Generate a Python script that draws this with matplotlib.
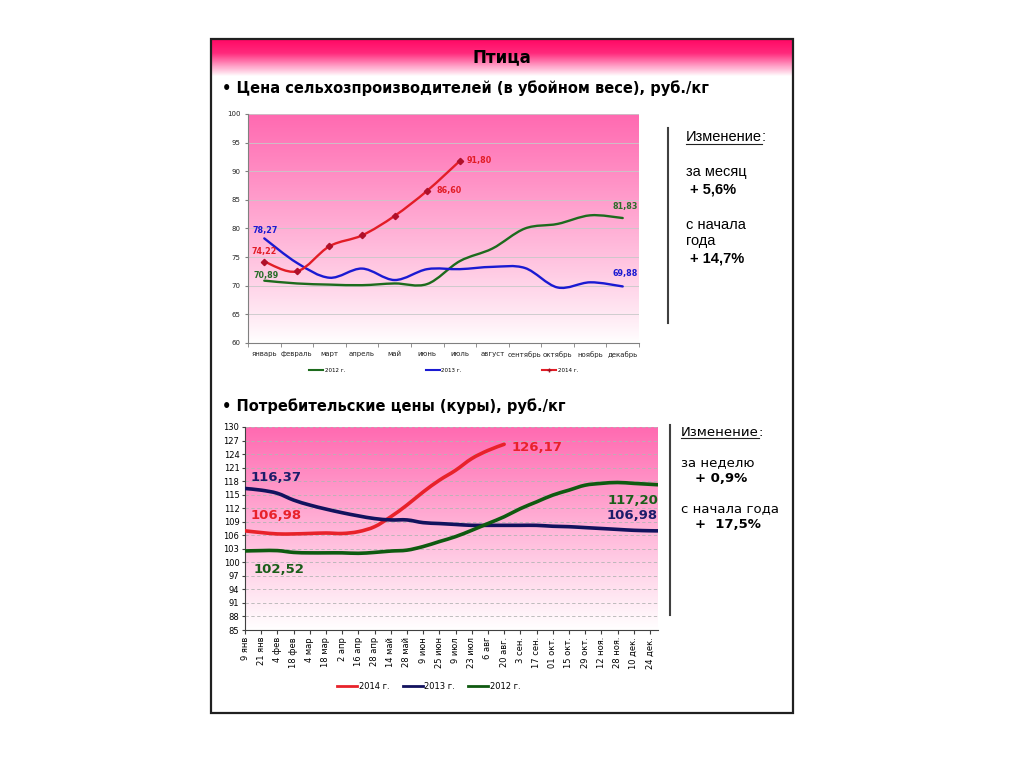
import matplotlib.pyplot as plt
import numpy as np
from matplotlib.path import Path
from matplotlib.patches import PathPatch, Rectangle
from matplotlib.lines import Line2D
from matplotlib.colors import LinearSegmentedColormap

plt.switch_backend('Agg')
plt.rcParams['font.family'] = ['DejaVu Sans']

W, H = 1024, 768

# --- top chart: producer price (slaughter weight), rub/kg, by month
months = ["январь", "февраль", "март", "апрель", "май", "июнь", "июль",
          "август", "сентябрь", "октябрь", "ноябрь", "декабрь"]
farm_2012 = [70.89, 70.4, 70.2, 70.1, 70.4, 70.3, 74.3, 76.5, 80.0, 80.8, 82.3, 81.83]
farm_2013 = [78.27, 74.0, 71.4, 73.0, 71.0, 72.9, 72.9, 73.3, 73.1, 69.7, 70.6, 69.88]
farm_2014 = [74.22, 72.5, 76.9, 78.8, 82.2, 86.60, 91.80]

# --- bottom chart: consumer price (chicken), rub/kg, weekly
week_labels = ["9 янв", "21 янв", "4 фев", "18 фев", "4 мар", "18 мар", "2 апр", "16 апр",
               "28 апр", "14 май", "28 май", "9 июн", "25 июн", "9 июл", "23 июл", "6 авг",
               "20 авг.", "3 сен.", "17 сен.", "01 окт.", "15 окт.", "29 окт.", "12 ноя.",
               "28 ноя.", "10 дек.", "24 дек."]
label_weeks = list(range(0, 52, 2))
weeks_full = label_weeks + [51]
retail_2014 = [106.98, 106.6, 106.3, 106.3, 106.4, 106.5, 106.4, 106.8, 107.9, 110.1,
               112.7, 115.6, 118.2, 120.4, 123.0, 124.8, 126.17]
retail_2013 = [116.37, 116.0, 115.3, 113.8, 112.7, 111.8, 111.0, 110.3, 109.7, 109.4,
               109.4, 108.8, 108.6, 108.4, 108.2, 108.2, 108.2, 108.2, 108.2, 108.0,
               107.9, 107.7, 107.5, 107.3, 107.1, 107.0, 106.98]
retail_2012 = [102.52, 102.6, 102.6, 102.2, 102.1, 102.1, 102.1, 102.0, 102.2, 102.5,
               102.7, 103.5, 104.6, 105.7, 107.1, 108.6, 110.1, 111.9, 113.4, 114.9,
               116.0, 117.1, 117.5, 117.7, 117.5, 117.3, 117.20]


def px_box(x0, y0, x1, y1):
    # pixel box (top-left origin) -> figure rect
    return [x0 / W, 1 - y1 / H, (x1 - x0) / W, (y1 - y0) / H]


def smooth_path(xs, ys):
    # excel-like smoothed line: cubic bezier through the points
    pts = np.column_stack([xs, ys]).astype(float)
    n = len(pts)
    verts = [pts[0]]
    codes = [Path.MOVETO]
    for i in range(n - 1):
        p0 = pts[i - 1] if i > 0 else pts[i]
        p1, p2 = pts[i], pts[i + 1]
        p3 = pts[i + 2] if i + 2 < n else pts[i + 1]
        verts += [p1 + (p2 - p0) / 6, p2 - (p3 - p1) / 6, p2]
        codes += [Path.CURVE4] * 3
    return Path(verts, codes)


def draw_smooth(ax, xs, ys, color, lw):
    ax.add_patch(PathPatch(smooth_path(xs, ys), fill=False, edgecolor=color, lw=lw,
                           capstyle='round', joinstyle='round', zorder=3))


def gradient_bg(ax, xlim, ylim, top_color, power=1.0):
    cmap = LinearSegmentedColormap.from_list("bg", ["white", top_color])
    grad = np.linspace(0, 1, 256) ** power
    ax.imshow(grad[:, None], extent=[xlim[0], xlim[1], ylim[0], ylim[1]], origin='lower',
              aspect='auto', cmap=cmap, vmin=0, vmax=1, zorder=0)
    ax.set_xlim(xlim)
    ax.set_ylim(ylim)


fig = plt.figure(figsize=(W / 100, H / 100), dpi=100)

# slide frame and header band
hdr = fig.add_axes(px_box(212, 40, 793, 76))
hdr.axis('off')
hdr_cmap = LinearSegmentedColormap.from_list("hdr", ["white", "#ff9cc4", "#ff2a7c", "#ff0a66"])
hdr.imshow(np.linspace(0, 1, 256)[:, None] ** 0.9, origin='lower', aspect='auto',
           cmap=hdr_cmap, extent=[0, 1, 0, 1])
fig.add_artist(Rectangle((211 / W, 1 - 713 / H), 582 / W, 674 / H, transform=fig.transFigure,
                         fill=False, edgecolor='#202020', lw=1.6))

fig.text(502 / W, 1 - 57 / H, "Птица", fontsize=12, fontweight='bold', ha='center', va='center')
fig.text(222 / W, 1 - 88 / H, "• Цена сельхозпроизводителей (в убойном весе), руб./кг",
         fontsize=10.5, fontweight='bold', ha='left', va='center')
fig.text(222 / W, 1 - 406 / H, "• Потребительские цены (куры), руб./кг",
         fontsize=10.5, fontweight='bold', ha='left', va='center')

# ---------------- top chart
ax1 = fig.add_axes(px_box(248, 114, 639, 343))
gradient_bg(ax1, (-0.5, 11.5), (60, 100), "#ff6ab1", power=0.9)
ax1.set_yticks(range(60, 101, 5))
ax1.grid(axis='y', color='#c8c8c8', lw=0.6)
ax1.set_axisbelow(True)
ax1.set_xticks(range(12))
ax1.set_xticklabels(months)
ax1.set_xticks(np.arange(-0.5, 12, 1), minor=True)
ax1.tick_params(axis='x', which='major', length=0, pad=6, labelsize=5, labelcolor='#222222')
ax1.tick_params(axis='x', which='minor', length=3, color='#808080')
ax1.tick_params(axis='y', length=2, labelsize=5, labelcolor='#222222', color='#808080')
for s in ['top', 'right']:
    ax1.spines[s].set_visible(False)
for s in ['left', 'bottom']:
    ax1.spines[s].set_color('#808080')
    ax1.spines[s].set_linewidth(0.8)

c12, c13, c14 = '#1d6b1d', '#1a1ad2', '#e21d26'
m1 = list(range(12))
draw_smooth(ax1, m1, farm_2012, c12, 1.7)
draw_smooth(ax1, m1, farm_2013, c13, 1.7)
draw_smooth(ax1, m1[:len(farm_2014)], farm_2014, c14, 1.7)
ax1.plot(m1[:len(farm_2014)], farm_2014, ls='none', marker='D', ms=3.2, color='#b0102a', zorder=4)

lab = dict(fontsize=5.8, fontweight='bold', textcoords='offset points')
ax1.annotate("91,80", (6, farm_2014[6]), xytext=(5, 0), color=c14, ha='left', va='center', **lab)
ax1.annotate("86,60", (5, farm_2014[5]), xytext=(7, 0), color=c14, ha='left', va='center', **lab)
ax1.annotate("74,22", (0, farm_2014[0]), xytext=(0, 7), color=c14, ha='center', va='center', **lab)
ax1.annotate("78,27", (0, farm_2013[0]), xytext=(1, 6), color=c13, ha='center', va='center', **lab)
ax1.annotate("70,89", (0, farm_2012[0]), xytext=(1, 4), color='#2a6e2a', ha='center', va='center', **lab)
ax1.annotate("81,83", (11, farm_2012[11]), xytext=(2, 8), color='#2a6e2a', ha='center', va='center', **lab)
ax1.annotate("69,88", (11, farm_2013[11]), xytext=(2, 9), color=c13, ha='center', va='center', **lab)

h1 = [Line2D([], [], color=c12, lw=1.5), Line2D([], [], color=c13, lw=1.5),
      Line2D([], [], color=c14, lw=1.5, marker='+', ms=3, mec='#a01020')]
ax1.legend(h1, ["2012 г.", "2013 г.", "2014 г."], loc='center', bbox_to_anchor=(0.5, -0.122),
           ncol=3, frameon=False, fontsize=4, columnspacing=14.5, handlelength=2.6,
           handletextpad=0.2, borderpad=0, borderaxespad=0)

# ---------------- bottom chart
ax2 = fig.add_axes(px_box(245, 427, 658, 630))
gradient_bg(ax2, (0, 51), (85, 130), "#ff6ab1", power=1.0)
ax2.set_yticks(range(85, 131, 3))
ax2.grid(axis='y', color='#b4b4b4', lw=0.6, ls=(0, (4, 3)))
ax2.set_axisbelow(True)
ax2.set_xticks(label_weeks)
ax2.set_xticklabels(week_labels, rotation=90)
ax2.tick_params(axis='x', length=3, pad=2, labelsize=6, color='#404040')
ax2.tick_params(axis='y', length=2, labelsize=6, color='#404040', pad=2)
for s in ['top', 'right']:
    ax2.spines[s].set_visible(False)
for s in ['left', 'bottom']:
    ax2.spines[s].set_color('#404040')
    ax2.spines[s].set_linewidth(0.8)

r14, r13, r12 = '#e8222a', '#12125e', '#0f5a10'
draw_smooth(ax2, label_weeks[:len(retail_2014)], retail_2014, r14, 2.6)
draw_smooth(ax2, weeks_full, retail_2013, r13, 2.6)
draw_smooth(ax2, weeks_full, retail_2012, r12, 2.6)

lab2 = dict(fontsize=9.5, fontweight='bold', textcoords='offset points', va='center')
ax2.annotate("126,17", (32, retail_2014[-1]), xytext=(5, -2), color=r14, ha='left', **lab2)
ax2.annotate("116,37", (0, retail_2013[0]), xytext=(4, 8), color='#1c1c6a', ha='left', **lab2)
ax2.annotate("106,98", (0, retail_2014[0]), xytext=(4, 11), color=r14, ha='left', **lab2)
ax2.annotate("102,52", (0, retail_2012[0]), xytext=(6, -13), color='#1a5e1a', ha='left', **lab2)
ax2.annotate("117,20", (51, retail_2012[-1]), xytext=(0, -11), color='#1a5e1a', ha='right', **lab2)
ax2.annotate("106,98", (51, retail_2013[-1]), xytext=(0, 11), color='#1c1c6a', ha='right', **lab2)

h2 = [Line2D([], [], color=r14, lw=2), Line2D([], [], color=r13, lw=2),
      Line2D([], [], color=r12, lw=2)]
ax2.legend(h2, ["2014 г.", "2013 г.", "2012 г."], loc='center left', bbox_to_anchor=(0.223, -0.28),
           ncol=3, frameon=False, fontsize=6, columnspacing=1.6, handlelength=2.4,
           handletextpad=0.2, borderpad=0, borderaxespad=0)

# ---------------- side notes
fig.add_artist(Line2D([668 / W, 668 / W], [1 - 128 / H, 1 - 323 / H], color='#404040', lw=1.5))
fig.add_artist(Line2D([670 / W, 670 / W], [1 - 425 / H, 1 - 615 / H], color='#404040', lw=1.5))


def underlined(x, y, family, size):
    t = fig.text(x / W, 1 - y / H, "Изменение", family=family, fontsize=size, va='center')
    fig.canvas.draw()
    bb = t.get_window_extent()
    fig.text(bb.x1 / W, 1 - y / H, ":", family=family, fontsize=size, va='center')
    fig.add_artist(Line2D([bb.x0 / W, bb.x1 / W], [(bb.y0 + 0.5) / H] * 2,
                          color='#222222', lw=0.8))


underlined(686, 137, 'Liberation Sans', 10.5)
side = dict(family='Liberation Sans', fontsize=10.5, va='center')
fig.text(686 / W, 1 - 172 / H, "за месяц", **side)
fig.text(690 / W, 1 - 190 / H, "+ 5,6%", fontweight='bold', **side)
fig.text(686 / W, 1 - 225 / H, "с начала", **side)
fig.text(686 / W, 1 - 241 / H, "года", **side)
fig.text(690 / W, 1 - 259 / H, "+ 14,7%", fontweight='bold', **side)

underlined(681, 432, 'DejaVu Sans', 9.5)
side2 = dict(family='DejaVu Sans', fontsize=9.5, va='center')
fig.text(681 / W, 1 - 463 / H, "за неделю", **side2)
fig.text(695 / W, 1 - 478 / H, "+ 0,9%", fontweight='bold', **side2)
fig.text(681 / W, 1 - 509 / H, "с начала года", **side2)
fig.text(695 / W, 1 - 525 / H, "+  17,5%", fontweight='bold', **side2)

fig.savefig("out.png", dpi=100)
plt.close(fig)
